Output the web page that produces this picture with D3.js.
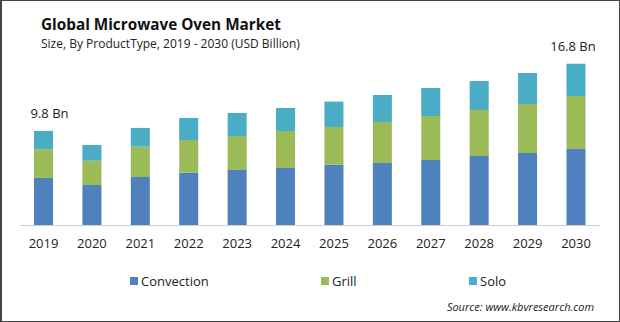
<!DOCTYPE html>
<html>
<head>
<meta charset="utf-8">
<title>Global Microwave Oven Market</title>
<style>
  html, body { margin: 0; padding: 0; background: #fff; }
  svg { display: block; font-family: "Open Sans", sans-serif; }
</style>
</head>
<body>
<svg width="620" height="322"></svg>
<script src="https://cdn.jsdelivr.net/npm/d3@7/dist/d3.min.js"></script>
<script>
// values (USD Billion)
var years = ["2019", "2020", "2021", "2022", "2023", "2024", "2025", "2026", "2027", "2028", "2029", "2030"];
var convection = [4.9, 4.17, 5.0, 5.45, 5.73, 5.94, 6.28, 6.46, 6.77, 7.19, 7.5, 7.92];
var grill      = [3.0, 2.53, 3.16, 3.4, 3.54, 3.85, 3.93, 4.27, 4.58, 4.79, 5.1, 5.52];
var solo       = [1.9, 1.63, 1.95, 2.3, 2.4, 2.4, 2.64, 2.81, 2.92, 3.02, 3.23, 3.36];
var seriesNames = ["Convection", "Grill", "Solo"];
var colors = ["#4f81bd", "#9bbb59", "#4bacc6"];
var endLabels = [{ year: "2019", text: "9.8 Bn" }, { year: "2030", text: "16.8 Bn" }];

var svg = d3.select("svg");

// frame
svg.append("rect")
   .attr("x", 0.5).attr("y", 0.5)
   .attr("width", 619).attr("height", 321)
   .attr("fill", "none")
   .attr("stroke", "#444");
svg.append("line")
   .attr("x1", 1.5).attr("x2", 1.5).attr("y1", 0).attr("y2", 322)
   .attr("stroke", "#444");

svg.append("text")
   .attr("x", 41).attr("y", 30)
   .attr("font-size", 15.3).attr("font-weight", "bold")
   .attr("fill", "#111")
   .text("Global Microwave Oven Market");
svg.append("text")
   .attr("x", 41).attr("y", 48)
   .attr("font-size", 12)
   .attr("fill", "#222")
   .text("Size, By ProductType,  2019 - 2030 (USD Billion)");

var rows = years.map(function (y, i) {
  return { year: y, Convection: convection[i], Grill: grill[i], Solo: solo[i] };
});
var stacked = d3.stack().keys(seriesNames)(rows);

var x = d3.scaleBand()
          .domain(years)
          .range([34, 585.5])
          .paddingInner(0.607)
          .paddingOuter(0);

var y = d3.scaleLinear()
          .domain([0, 16.8])
          .range([225, 225 - 161.3]);

svg.append("g")
   .selectAll("g")
   .data(stacked)
   .enter().append("g")
   .attr("fill", function (d, i) { return colors[i]; })
   .selectAll("rect")
   .data(function (d) { return d; })
   .enter().append("rect")
   .attr("x", function (d) { return x(d.data.year); })
   .attr("y", function (d) { return y(d[1]); })
   .attr("width", x.bandwidth())
   .attr("height", function (d) { return y(d[0]) - y(d[1]); });

// baseline + year labels
var xAxis = svg.append("g")
               .attr("transform", "translate(0,225)")
               .call(d3.axisBottom(x).tickSize(0).tickPadding(14));
xAxis.select(".domain").remove();
xAxis.append("line")
     .attr("x1", 20).attr("x2", 600)
     .attr("y1", 0.5).attr("y2", 0.5)
     .attr("stroke", "#d0d0d0");
xAxis.selectAll("text")
     .attr("font-family", "Open Sans, sans-serif")
     .attr("font-size", 13)
     .attr("fill", "#222");

// total labels (first one nudged right, last one nudged left, as in the source)
svg.selectAll(".endLabel")
   .data(endLabels)
   .enter().append("text")
   .attr("class", "endLabel")
   .attr("x", function (d, i) { return x(d.year) + x.bandwidth() / 2 + (i === 0 ? 6 : -3); })
   .attr("y", function (d) {
     var i = years.indexOf(d.year);
     return y(convection[i] + grill[i] + solo[i]) - 13;
   })
   .attr("text-anchor", "middle")
   .attr("font-size", 13)
   .attr("fill", "#222")
   .text(function (d) { return d.text; });

// legend
var legendX = [130, 321, 469];
var legend = svg.selectAll(".legend")
                .data(seriesNames)
                .enter().append("g")
                .attr("class", "legend")
                .attr("transform", function (d, i) { return "translate(" + legendX[i] + ",277)"; });
legend.append("rect")
      .attr("width", 8).attr("height", 8)
      .attr("fill", function (d, i) { return colors[i]; });
legend.append("text")
      .attr("x", 11).attr("y", 8.5)
      .attr("font-size", 13)
      .attr("fill", "#222")
      .text(function (d) { return d; });

svg.append("text")
   .attr("x", 594).attr("y", 311)
   .attr("text-anchor", "end")
   .attr("font-size", 11)
   .attr("font-style", "italic")
   .attr("fill", "#222")
   .text("Source: www.kbvresearch.com");
</script>
</body>
</html>
